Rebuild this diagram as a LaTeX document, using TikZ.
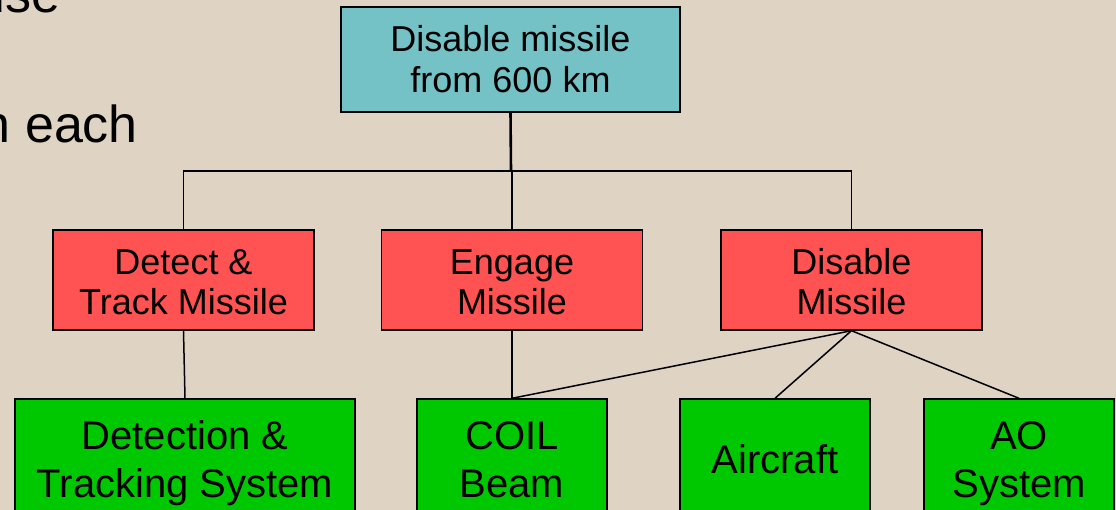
\documentclass[tikz,border=0pt]{standalone}
\usepackage{fontspec}
\setmainfont{Liberation Sans}
\definecolor{bg}{RGB}{223,212,195}
\definecolor{goalfill}{RGB}{116,193,198}
\definecolor{funcfill}{RGB}{255,82,82}
\definecolor{sysfill}{RGB}{0,200,0}
\tikzset{
  box/.style={draw=black, line width=1.4pt, inner sep=0pt, align=center,
    text depth=0pt},
  goalbox/.style={box, fill=goalfill, minimum width=339pt, minimum height=105pt,
    font=\fontsize{36}{41}\selectfont, text height=26pt+41pt},
  funcbox/.style={box, fill=funcfill, minimum width=261pt, minimum height=100pt,
    font=\fontsize{36}{40}\selectfont, text height=30pt+40pt},
  sysbox/.style={box, fill=sysfill, minimum height=115pt,
    font=\fontsize{40}{48}\selectfont, text height=33pt+48pt},
  oneline/.style={text height=33pt},
  link/.style={line width=1.5pt},
  slidetext/.style={inner sep=0pt, font=\fontsize{52}{62}\selectfont, anchor=base west}
}
\begin{document}
\begin{tikzpicture}[x=1pt, y=-1pt]
  \useasboundingbox (0,0) rectangle (1116,510);
  \clip (0,0) rectangle (1116,510);
  \fill[bg] (0,0) rectangle (1116,510);

  % bullet text running behind the chart
  \node[slidetext] (lineA) at (-23.6,13) {use};
  \node[slidetext] (lineB) at (-18.4,143) {n each};

  % goal
  \node[goalbox] (goal) at (510.5,59.5) {Disable missile\\from 600 km};

  % functions
  \node[funcbox] (f1) at (183.5,280) {Detect \&\\Track Missile};
  \node[funcbox] (f2) at (512,280) {Engage\\Missile};
  \node[funcbox] (f3) at (851.5,280) {Disable\\Missile};

  % systems
  \node[sysbox, minimum width=340pt] (s1) at (185,456.5) {Detection \&\\Tracking System};
  \node[sysbox, minimum width=190pt] (s2) at (512,456.5) {COIL\\Beam};
  \node[sysbox, minimum width=190pt, oneline] (s3) at (775,456.5) {Aircraft};
  \node[sysbox, minimum width=190pt] (s4) at (1019,456.5) {AO\\System};

  % tree connectors
  \coordinate (bus) at (511,171);
  \draw[line width=2.6pt] (goal.south) -- (bus);
  \draw[link] (f1.north) |- (bus) -| (f3.north);
  \draw[link] (f2.north) -- (f2.north |- bus);

  \draw[link] (f1.south) -- (s1.north);
  \draw[link] (f2.south) -- (s2.north);
  \draw[link] (f3.south) -- (s2.north);
  \draw[link] (f3.south) -- (s3.north);
  \draw[link] (f3.south) -- (s4.north);
\end{tikzpicture}
\end{document}
